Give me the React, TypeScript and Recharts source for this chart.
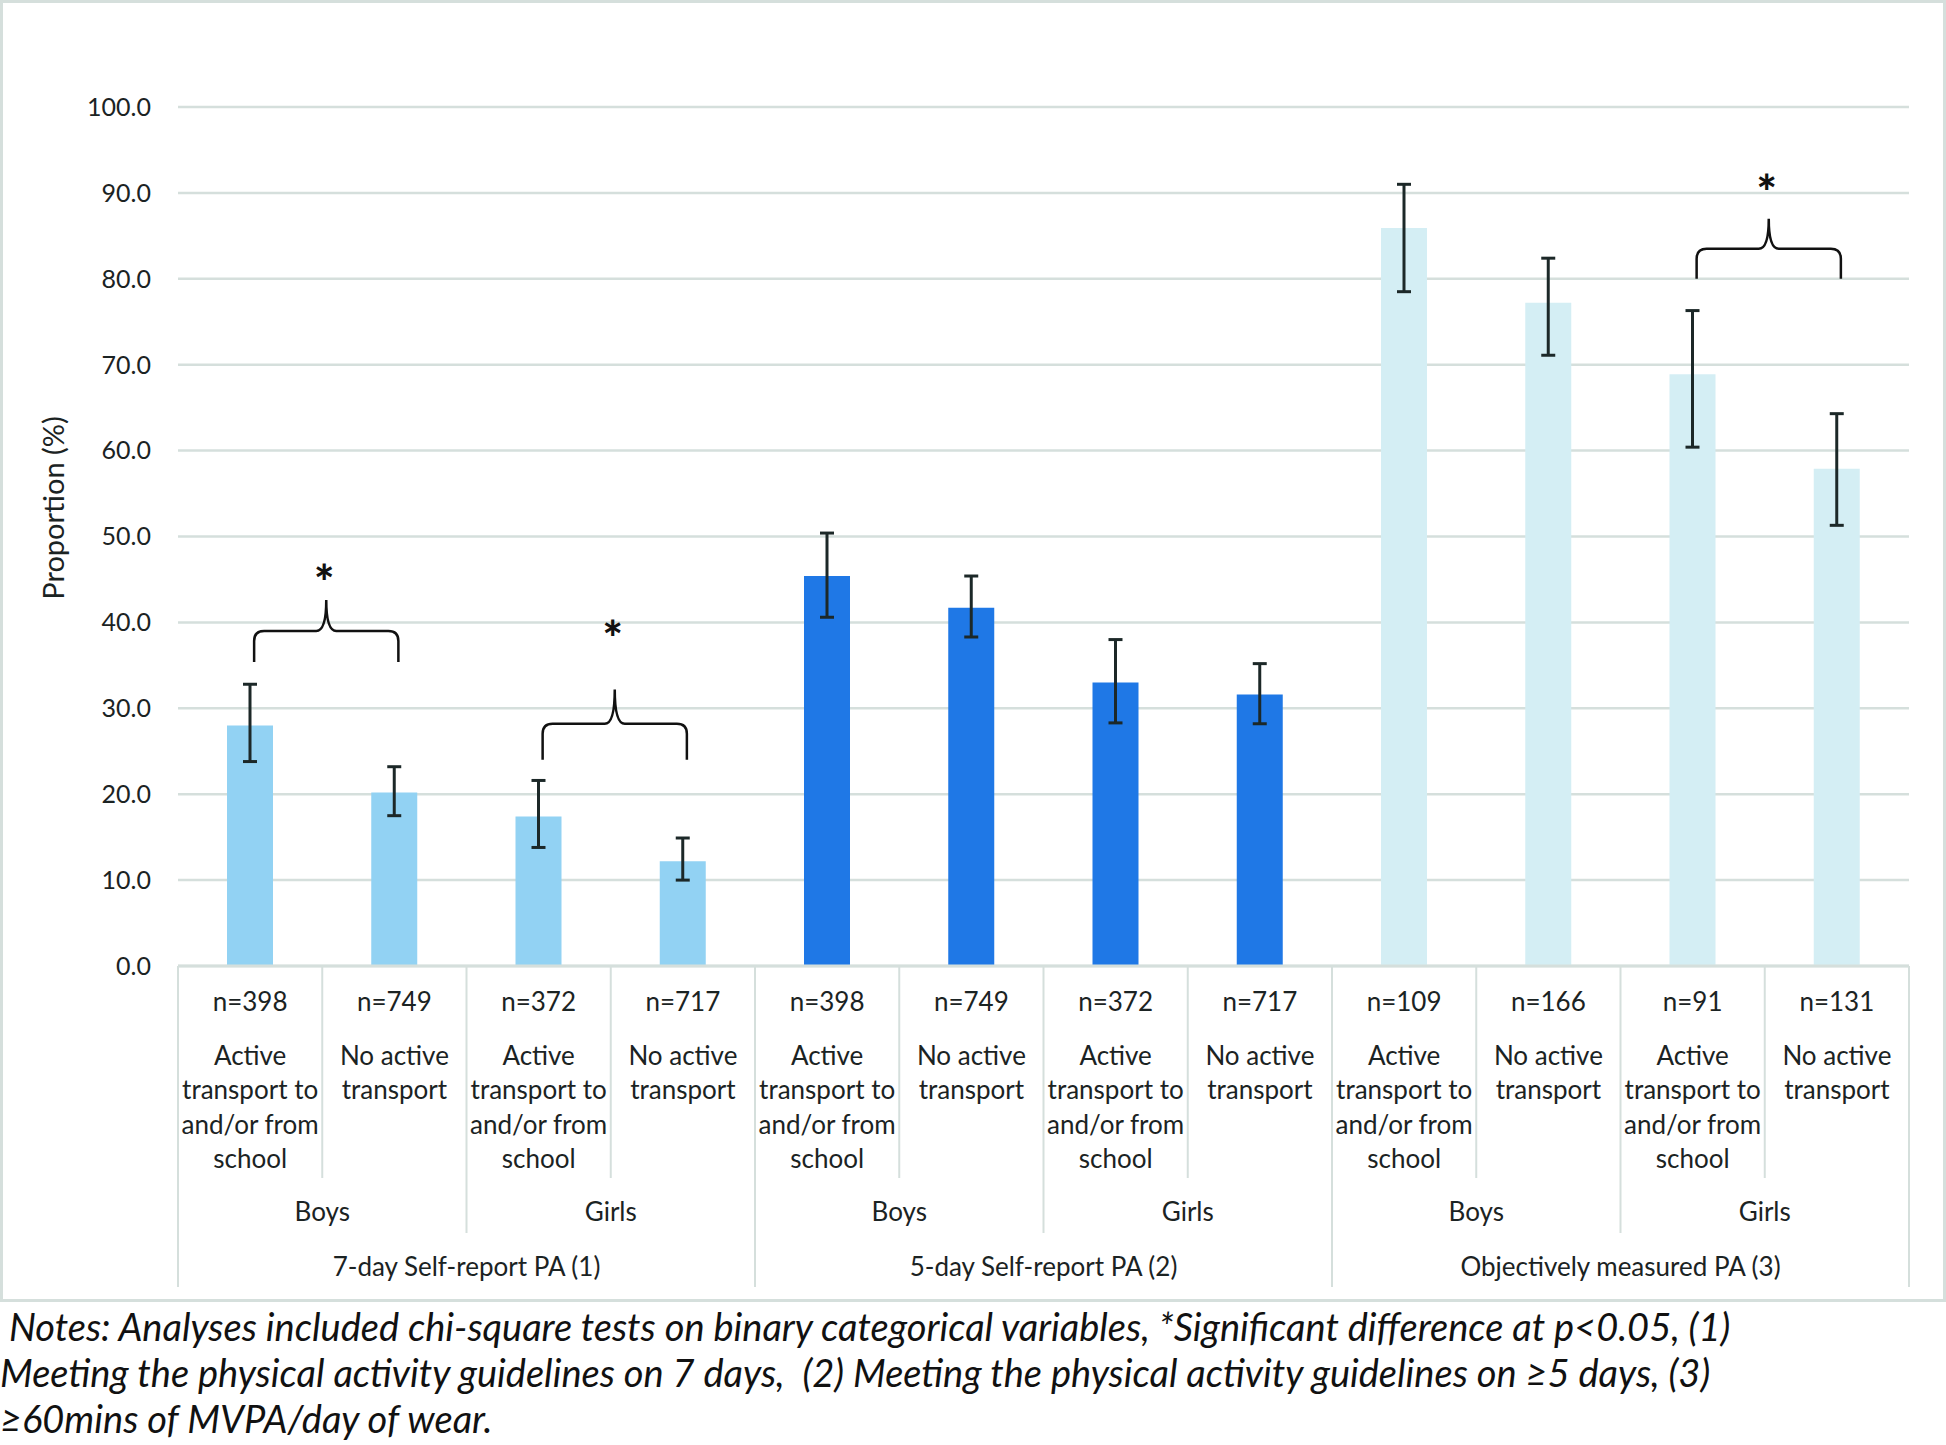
import React from "react";
import {
  BarChart,
  Bar,
  XAxis,
  YAxis,
  CartesianGrid,
  ErrorBar,
  Cell,
  ReferenceArea,
} from "recharts";

/* ================= DATA ================= */

const measures = [
  "7-day Self-report PA (1)",
  "5-day Self-report PA (2)",
  "Objectively measured PA (3)",
];
const genders = ["Boys", "Girls"];
const transportLabels = [
  ["Active", "transport to", "and/or from", "school"],
  ["No active", "transport"],
];
const sampleSizes = [
  "n=398", "n=749", "n=372", "n=717",
  "n=398", "n=749", "n=372", "n=717",
  "n=109", "n=166", "n=91", "n=131",
];
const proportions = [28.0, 20.2, 17.4, 12.2, 45.4, 41.7, 33.0, 31.6, 85.9, 77.2, 68.9, 57.9];
const ciLower = [23.8, 17.5, 13.8, 10.0, 40.6, 38.3, 28.3, 28.2, 78.5, 71.1, 60.4, 51.3];
const ciUpper = [32.8, 23.2, 21.6, 14.9, 50.4, 45.4, 38.0, 35.2, 91.0, 82.4, 76.3, 64.3];
const yTicks = [0, 10, 20, 30, 40, 50, 60, 70, 80, 90, 100];

// significance braces: first category index, tip / flat / apex / asterisk values
const braceStart = [0, 2, 10];
const braceTip = [35.4, 24.0, 80.0];
const braceFlat = [39.0, 28.2, 83.5];
const braceApex = [42.6, 32.2, 87.0];
const braceStar = [45.7, 39.2, 91.2];

const measureColors = ["#92d2f3", "#1f78e6", "#d4eef4"];

const notes = [
  "\u00a0Notes: Analyses included chi-square tests on binary categorical variables, *Significant difference at p<0.05, (1)",
  "Meeting the physical activity guidelines on 7 days,\u00a0 (2) Meeting the physical activity guidelines on \u22655 days, (3)",
  "\u226560mins of MVPA/day of wear.",
];

const categories = sampleSizes.map((_, i) => `cat${i}`);

const data = categories.map((key, i) => ({
  key,
  value: proportions[i],
  ci: [proportions[i] - ciLower[i], ciUpper[i] - proportions[i]],
}));

/* ================= LAYOUT ================= */

const FONT = "Lato, 'Open Sans', sans-serif";
const CHART_W = 1940;
const CHART_H = 1296;
const MARGIN = { top: 104, right: 34, bottom: 0, left: 0 };
const Y_W = 175;
const X_H = 333;
const BAND = (CHART_W - Y_W - MARGIN.right) / categories.length;
const GRID = "#d5dfdc";
const TEXT = "#1b2323";

function CategoryTick(props: any) {
  const { x, y, payload } = props;
  const i = categories.indexOf(payload.value);
  const lines = transportLabels[i % 2];
  const left = x - BAND / 2;
  const sepLen = i % 4 === 0 ? 321 : i % 2 === 0 ? 267 : 212;
  return (
    <g fontFamily={FONT} fontSize={26} fill={TEXT}>
      <line x1={left} y1={y} x2={left} y2={y + sepLen} stroke={GRID} strokeWidth={2} />
      {i === categories.length - 1 && (
        <line x1={x + BAND / 2} y1={y} x2={x + BAND / 2} y2={y + 321} stroke={GRID} strokeWidth={2} />
      )}
      <text x={x} y={y + 45} textAnchor="middle">{sampleSizes[i]}</text>
      {lines.map((t, k) => (
        <text key={k} x={x} y={y + 99 + k * 34.4} textAnchor="middle">{t}</text>
      ))}
      {i % 2 === 0 && (
        <text x={x + BAND / 2} y={y + 255} textAnchor="middle">{genders[(i / 2) % 2]}</text>
      )}
      {i % 4 === 0 && (
        <text x={x + BAND * 1.5} y={y + 310} textAnchor="middle">{measures[i / 4]}</text>
      )}
    </g>
  );
}

function makeBrace(b: number) {
  return (p: any) => {
    const { x, y, width, height } = p;
    const L = x + width / 4 + 4;
    const R = x + (3 * width) / 4 + 4;
    const M = (L + R) / 2;
    const yb = y + height;
    const ya = y;
    const unit = height / (braceApex[b] - braceTip[b]);
    const yt = y + unit * (braceApex[b] - braceFlat[b]);
    const ys = y - unit * (braceStar[b] - braceApex[b]);
    const r = 10;
    const d = `M${L},${yb} L${L},${yt + r} Q${L},${yt} ${L + r},${yt} L${M - r},${yt} Q${M},${yt} ${M},${ya} Q${M},${yt} ${M + r},${yt} L${R - r},${yt} Q${R},${yt} ${R},${yt + r} L${R},${yb}`;
    return (
      <g>
        <path d={d} fill="none" stroke="#111" strokeWidth={2.5} />
        <text
          x={M - 2}
          y={ys}
          dy={27}
          textAnchor="middle"
          fontFamily={FONT}
          fontWeight={900}
          fontSize={48}
          fill="#111"
        >
          *
        </text>
      </g>
    );
  };
}

/* ================= COMPONENT ================= */

export default function App() {
  return (
    <div style={styles.page}>
      <div style={styles.frame}>
        <BarChart width={CHART_W} height={CHART_H} data={data} margin={MARGIN}>
          <CartesianGrid vertical={false} stroke={GRID} strokeWidth={2.5} />
          <XAxis
            dataKey="key"
            interval={0}
            height={X_H}
            tickLine={false}
            tickSize={0}
            tickMargin={0}
            axisLine={{ stroke: GRID, strokeWidth: 3 }}
            tick={<CategoryTick />}
          />
          <YAxis
            domain={[0, 100]}
            ticks={yTicks}
            width={Y_W}
            axisLine={false}
            tickLine={false}
            tickSize={0}
            tickMargin={27}
            tickFormatter={(v: number) => v.toFixed(1)}
            tick={{ fontFamily: FONT, fontSize: 25, fill: TEXT }}
            label={{
              content: () => (
                <text
                  x={49}
                  y={505}
                  transform="rotate(-90 49 505)"
                  textAnchor="middle"
                  dominantBaseline="central"
                  fontFamily={FONT}
                  fontSize={29}
                  fill={TEXT}
                >
                  Proportion (%)
                </text>
              ),
            }}
          />
          <Bar dataKey="value" barSize={46} isAnimationActive={false}>
            {data.map((_, i) => (
              <Cell key={i} fill={measureColors[Math.floor(i / 4)]} />
            ))}
            <ErrorBar dataKey="ci" width={7} strokeWidth={3} stroke="#1c2828" direction="y" />
          </Bar>
          {braceStart.map((s, b) => (
            <ReferenceArea
              key={b}
              x1={categories[s]}
              x2={categories[s + 1]}
              y1={braceTip[b]}
              y2={braceApex[b]}
              ifOverflow="visible"
              shape={makeBrace(b)}
            />
          ))}
        </BarChart>
      </div>
      <div style={styles.notes}>
        {notes.map((n, i) => (
          <div key={i}>{n}</div>
        ))}
      </div>
    </div>
  );
}

/* ================= STYLES ================= */

const styles: Record<string, React.CSSProperties> = {
  page: {
    position: "absolute",
    left: 0,
    top: 0,
    width: 1946,
    height: 1445,
    background: "#fff",
    overflow: "hidden",
  },
  frame: {
    width: 1946,
    height: 1302,
    boxSizing: "border-box",
    border: `3px solid ${GRID}`,
  },
  notes: {
    fontFamily: FONT,
    fontStyle: "italic",
    fontSize: 38,
    lineHeight: "46px",
    color: "#111",
    whiteSpace: "pre",
    marginTop: 1,
  },
};
